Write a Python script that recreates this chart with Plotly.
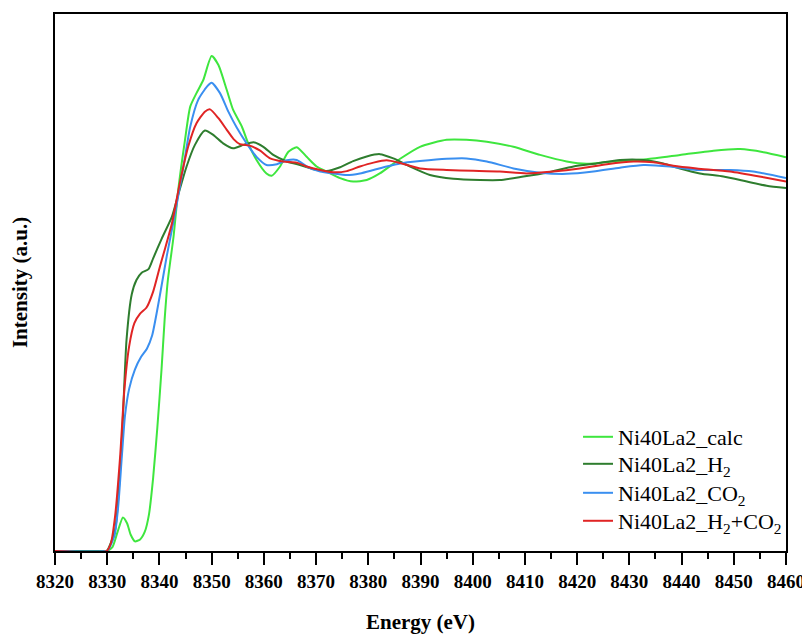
import plotly.graph_objects as go

# Energy (eV) / normalized intensity
calc_e = [8320, 8329.9, 8331.0, 8332.0, 8333.0, 8333.8, 8334.5, 8335.3, 8336.3, 8337.2, 8338.0,
          8338.8, 8339.6, 8340.4, 8341.0, 8341.6, 8342.7, 8343.6, 8344.9, 8345.9, 8347.1, 8348.4,
          8350.0, 8351.3, 8352.9, 8354.1, 8355.8, 8357.0, 8358.6, 8360.5, 8361.5, 8363.1, 8364.7,
          8366.3, 8368.2, 8370.1, 8372.0, 8374.6, 8377.1, 8379.7, 8382.2, 8386.1, 8389.9, 8395.0,
          8398.8, 8402.7, 8407.8, 8412.9, 8418.0, 8421.8, 8426.9, 8433.3, 8439.7, 8446.1, 8451.2,
          8455.7, 8460]
calc_i = [0, 0, 0.010, 0.050, 0.087, 0.072, 0.042, 0.025, 0.030, 0.050, 0.095,
          0.190, 0.320, 0.470, 0.600, 0.700, 0.814, 0.935, 1.065, 1.151, 1.186, 1.220,
          1.282, 1.259, 1.194, 1.143, 1.099, 1.056, 1.013, 0.978, 0.972, 0.996, 1.034,
          1.046, 1.021, 0.996, 0.983, 0.966, 0.957, 0.961, 0.978, 1.016, 1.047, 1.065,
          1.065, 1.060, 1.047, 1.026, 1.009, 1.003, 1.009, 1.015, 1.026, 1.037, 1.041,
          1.033, 1.020]

h2_e = [8320, 8329.2, 8329.9, 8331.5, 8332.8, 8333.7, 8334.7, 8335.6, 8336.6, 8337.9, 8338.8,
        8340.4, 8342.4, 8343.5, 8345.2, 8346.8, 8348.7, 8350.3, 8352.2, 8354.1, 8356.1, 8358.0,
        8359.9, 8361.8, 8364.4, 8366.9, 8369.5, 8372.0, 8374.6, 8377.1, 8379.7, 8382.2, 8384.8,
        8388.0, 8391.8, 8396.3, 8401.4, 8405.2, 8409.7, 8414.2, 8419.3, 8423.7, 8428.2, 8432.7,
        8436.5, 8439.7, 8443.5, 8448.0, 8452.5, 8456.3, 8460]
h2_i = [0, 0, 0, 0.054, 0.288, 0.547, 0.665, 0.702, 0.721, 0.730, 0.758,
        0.808, 0.866, 0.918, 0.996, 1.052, 1.089, 1.078, 1.056, 1.043, 1.052, 1.059,
        1.047, 1.026, 1.009, 1.000, 0.989, 0.984, 0.994, 1.010, 1.022, 1.028, 1.017,
        0.996, 0.974, 0.964, 0.961, 0.961, 0.970, 0.980, 0.996, 1.004, 1.013, 1.013,
        1.004, 0.991, 0.978, 0.970, 0.957, 0.946, 0.940]

co2_e = [8320, 8329.9, 8330.2, 8331.4, 8332.1, 8332.8, 8333.4, 8334.2, 8335.3, 8336.5, 8337.6,
         8338.6, 8340.1, 8341.4, 8343.0, 8344.6, 8345.9, 8347.4, 8349.1, 8350.0, 8351.6, 8353.2,
         8354.8, 8356.7, 8358.6, 8360.5, 8362.5, 8364.4, 8366.3, 8368.2, 8370.8, 8373.3, 8375.9,
         8378.4, 8381.0, 8383.5, 8386.1, 8389.9, 8395.0, 8398.8, 8402.7, 8407.8, 8412.9, 8418.0,
         8423.1, 8428.2, 8432.7, 8437.8, 8442.9, 8449.3, 8453.7, 8460]
co2_i = [0, 0, 0.003, 0.040, 0.115, 0.244, 0.350, 0.420, 0.470, 0.503, 0.524,
         0.558, 0.663, 0.764, 0.875, 0.996, 1.099, 1.168, 1.203, 1.213, 1.186, 1.138,
         1.097, 1.056, 1.021, 1.000, 1.002, 1.012, 1.013, 0.996, 0.983, 0.978, 0.974,
         0.978, 0.987, 0.996, 1.004, 1.010, 1.016, 1.017, 1.009, 0.991, 0.980, 0.977,
         0.983, 0.993, 1.000, 0.996, 0.987, 0.987, 0.983, 0.966]

mix_e = [8320, 8329.9, 8330.7, 8331.5, 8332.5, 8333.3, 8334.2, 8335.2, 8336.3, 8337.5, 8338.8,
         8340.1, 8340.9, 8342.4, 8343.9, 8345.5, 8347.1, 8348.7, 8349.7, 8351.3, 8352.9,
         8354.2, 8355.4, 8357.3, 8359.3, 8361.2, 8363.7, 8366.3, 8368.2, 8370.8, 8373.3,
         8375.9, 8378.4, 8381.0, 8383.5, 8386.1, 8389.9, 8395.0, 8400.1, 8405.2, 8410.3,
         8415.4, 8420.5, 8425.7, 8430.8, 8434.6, 8438.4, 8442.9, 8449.3, 8455.7, 8460]
mix_i = [0, 0, 0.020, 0.089, 0.250, 0.420, 0.530, 0.590, 0.615, 0.630, 0.672,
         0.737, 0.775, 0.849, 0.953, 1.047, 1.108, 1.138, 1.144, 1.121, 1.091,
         1.067, 1.054, 1.050, 1.037, 1.017, 1.009, 1.006, 0.996, 0.987, 0.981,
         0.984, 0.996, 1.006, 1.012, 1.005, 0.991, 0.987, 0.985, 0.983, 0.978,
         0.983, 0.991, 1.002, 1.009, 1.007, 0.998, 0.991, 0.983, 0.968, 0.957]

series = [
    ("Ni40La2_calc", calc_e, calc_i, "#3ee63e"),
    ("Ni40La2_H<sub>2</sub>", h2_e, h2_i, "#2e7d2e"),
    ("Ni40La2_CO<sub>2</sub>", co2_e, co2_i, "#3a8ff0"),
    ("Ni40La2_H<sub>2</sub>+CO<sub>2</sub>", mix_e, mix_i, "#e02424"),
]

x_ticks = list(range(8320, 8461, 10))

font_serif = "Liberation Serif, Times New Roman, serif"
legend_ids = ["legend", "legend2", "legend3", "legend4"]
legend_y = [0.2123, 0.162, 0.108, 0.0559]

fig = go.Figure()
for (name, xs, ys, col), lid in zip(series, legend_ids):
    fig.add_trace(go.Scatter(x=xs, y=ys, mode="lines", name=name, legend=lid,
                             line=dict(color=col, width=2, shape="spline", smoothing=0.6)))

legend_layout = {}
for lid, ly in zip(legend_ids, legend_y):
    legend_layout[lid] = dict(x=0.7155, y=ly, xanchor="left", yanchor="middle",
                              bgcolor="rgba(0,0,0,0)",
                              font=dict(family=font_serif, size=22, color="black"))

fig.update_layout(
    width=810, height=635,
    margin=dict(l=47, r=32, t=6, b=92),
    paper_bgcolor="white", plot_bgcolor="white",
    showlegend=True,
    font=dict(family=font_serif, color="black"),
    **legend_layout,
)
fig.update_xaxes(
    range=[8320, 8460], tickvals=x_ticks, ticktext=[f"<b>{t}</b>" for t in x_ticks],
    ticks="outside", ticklen=12, tickwidth=1.5, tickcolor="black",
    minor=dict(dtick=5, ticks="outside", ticklen=6, tickwidth=1.5, tickcolor="black"),
    showline=True, linecolor="black", linewidth=1.5, mirror=True,
    showgrid=False, zeroline=False, automargin=False,
    tickfont=dict(family=font_serif, size=19, color="black"),
    title=dict(text="<b>Energy (eV)</b>", font=dict(family=font_serif, size=21, color="black"), standoff=24),
)
fig.update_yaxes(
    range=[0, 1.391], showticklabels=False, ticks="",
    showline=True, linecolor="black", linewidth=1.5, mirror=True,
    showgrid=False, zeroline=False, automargin=False,
    title=dict(text="<b>Intensity (a.u.)</b>", font=dict(family=font_serif, size=21, color="black"), standoff=26),
)

fig.write_html("out.html")
